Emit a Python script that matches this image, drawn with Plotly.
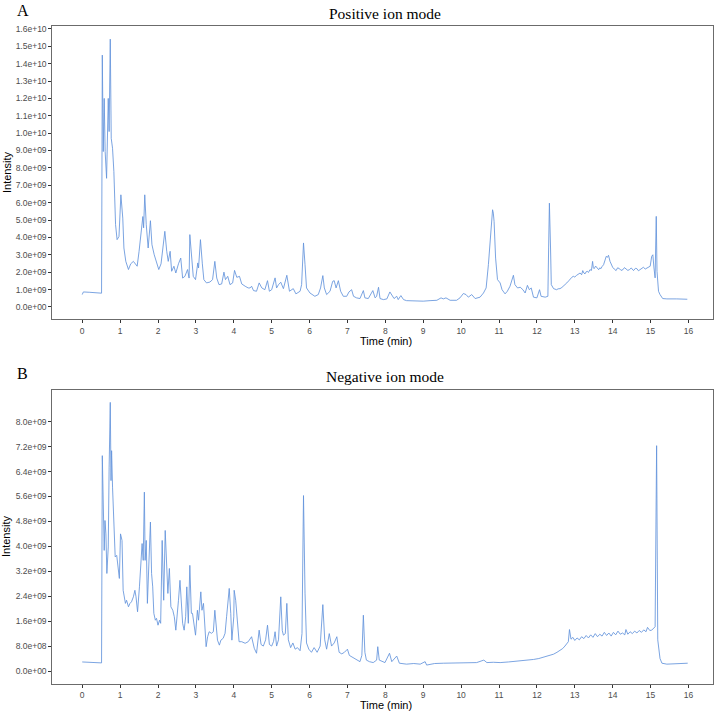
import plotly.graph_objects as go

# ---------------- data (intensity in units of 1e9) ----------------
pos_time = [0.00, 0.03, 0.20, 0.40, 0.51, 0.53, 0.555, 0.58, 0.605, 0.643, 0.687, 0.71, 0.74, 0.765, 0.80,
            0.835, 0.88, 0.92, 0.97, 1.02, 1.07, 1.10, 1.15, 1.22, 1.28, 1.35, 1.45, 1.50, 1.57, 1.60,
            1.62, 1.65, 1.69, 1.74, 1.80, 1.84, 1.90, 1.97, 2.02, 2.08, 2.14, 2.18, 2.23, 2.27, 2.32,
            2.36, 2.42, 2.47, 2.54, 2.60, 2.65, 2.71, 2.78, 2.82, 2.84, 2.89, 2.93, 2.99, 3.05, 3.07,
            3.12, 3.17, 3.21, 3.28, 3.37, 3.44, 3.50, 3.55, 3.61, 3.68, 3.74, 3.78, 3.84, 3.90, 3.97,
            4.02, 4.08, 4.15, 4.21, 4.30, 4.38,
            4.43, 4.47, 4.52, 4.60, 4.67, 4.74, 4.82, 4.89, 4.94, 5.00, 5.09, 5.13, 5.18, 5.24, 5.31,
            5.40, 5.47, 5.57, 5.64, 5.75, 5.79, 5.84, 5.88, 5.92, 6.01, 6.14, 6.23, 6.29, 6.35, 6.39,
            6.45, 6.54, 6.61, 6.65, 6.70, 6.76, 6.82, 6.89, 6.98, 7.04, 7.11, 7.16, 7.24, 7.33, 7.42,
            7.46, 7.55, 7.61, 7.67, 7.73, 7.77, 7.82, 7.86, 7.95, 8.04, 8.12, 8.17, 8.23, 8.30, 8.34,
            8.41, 8.48, 8.56, 8.83, 9.00, 9.18, 9.36, 9.47, 9.53, 9.60, 9.71, 9.88, 9.97, 10.06, 10.13,
            10.19, 10.28, 10.37, 10.50, 10.59,
            10.66, 10.72, 10.78, 10.83, 10.85, 10.87, 10.91, 10.96, 11.03, 11.08, 11.16, 11.22, 11.29,
            11.34, 11.38, 11.42, 11.49, 11.56, 11.63, 11.69, 11.75, 11.80, 11.85, 11.91, 12.00, 12.07,
            12.11, 12.22, 12.29, 12.31, 12.33, 12.36, 12.38, 12.44, 12.48, 12.52, 12.56, 12.61, 12.66,
            12.70, 12.75, 12.79, 12.84, 12.88, 12.92, 12.96, 13.00, 13.05, 13.10, 13.14, 13.18, 13.21,
            13.24, 13.27, 13.30, 13.33, 13.36, 13.40, 13.44, 13.47, 13.49, 13.51, 13.55, 13.58, 13.61,
            13.63, 13.66, 13.69, 13.72, 13.76, 13.80, 13.83, 13.86, 13.89, 13.93, 13.97, 14.00, 14.04,
            14.09, 14.13, 14.18, 14.22, 14.27, 14.31, 14.35, 14.40, 14.44, 14.49, 14.55, 14.60, 14.64,
            14.68, 14.72, 14.77, 14.81, 14.86, 14.90, 14.95, 14.99, 15.03, 15.06, 15.09, 15.12, 15.15,
            15.17, 15.21, 15.25, 15.32, 15.43, 15.69, 15.97]
pos_int = [0.71, 0.86, 0.84, 0.80, 0.79, 14.49, 8.94, 12.0, 8.94, 7.4, 12.0, 10.09, 15.41, 9.7, 9.13,
           7.79, 4.73, 3.87, 4.05, 6.45, 5.11, 3.39, 2.62, 2.15, 2.48, 2.62, 2.34, 3.2, 4.63, 5.2,
           4.55, 6.45, 4.73, 3.39, 4.96, 3.58, 3.0, 2.48, 2.15, 2.48, 3.58, 4.35, 3.2, 2.62, 3.2,
           2.05, 2.34, 1.95, 2.48, 2.81, 1.66, 1.76, 2.15, 1.66, 4.16, 2.62, 1.76, 1.57, 2.53, 2.24,
           3.87, 2.48, 1.57, 1.38, 1.43, 1.57, 2.62, 1.66, 1.28, 1.32, 2.0, 1.57, 1.76, 1.28, 1.38,
           2.1, 1.7, 1.76, 1.32, 1.19, 1.09,
           1.09, 1.19, 0.94, 0.90, 1.38, 1.09, 0.99, 1.51, 0.90, 0.99, 1.67, 1.09, 1.28, 1.42, 1.05,
           1.82, 0.90, 1.05, 0.75, 0.90, 1.28, 3.68, 2.43, 1.09, 0.80, 0.61, 0.71, 1.09, 1.80, 1.09,
           0.71, 0.90, 1.47, 1.51, 1.09, 1.51, 0.90, 0.61, 0.61, 0.86, 0.99, 0.61, 0.52, 0.48, 0.94,
           0.52, 0.48, 0.75, 0.94, 0.52, 0.61, 1.13, 0.48, 0.42, 0.46, 0.86, 0.71, 0.48, 0.61, 0.42,
           0.65, 0.42, 0.36, 0.33, 0.33, 0.36, 0.38, 0.52, 0.46, 0.52, 0.38, 0.38, 0.52, 0.77, 0.71,
           0.56, 0.71, 0.48, 0.56, 0.80,
           1.09, 2.43, 4.35, 5.59, 5.40, 4.92, 2.81, 1.57, 1.38, 0.99, 0.75, 0.90, 1.19,
           1.57, 1.82, 1.28, 1.09, 1.13, 0.99, 0.80, 1.24, 0.99, 1.09, 0.56, 0.52, 0.99,
           0.61, 0.56, 0.61, 3.39, 5.97, 3.39, 1.28, 1.05, 1.00, 0.99, 1.04, 1.05, 1.12,
           1.19, 1.28, 1.38, 1.50, 1.63, 1.70, 1.76, 1.72, 1.82, 1.88, 1.95, 1.85, 2.09,
           1.95, 1.90, 2.02, 2.05, 1.98, 2.14, 2.10, 2.62, 2.25, 2.20, 2.35, 2.28, 2.18,
           2.14, 2.25, 2.20, 2.32, 2.43, 2.70, 2.91, 2.85, 2.97, 2.62, 2.40, 2.28, 2.18,
           2.09, 2.25, 2.20, 2.10, 2.14, 2.26, 2.20, 2.10, 2.14, 2.24, 2.09, 2.22, 2.20,
           2.08, 2.14, 2.25, 2.28, 2.18, 2.24, 2.30, 2.34, 2.91, 3.00, 2.24, 1.67, 5.21,
           2.05, 0.90, 0.71, 0.48, 0.46, 0.46, 0.44]

neg_time = [0.00, 0.51, 0.53, 0.555, 0.58, 0.60, 0.625, 0.65, 0.687, 0.71, 0.74, 0.76, 0.775, 0.80, 0.84,
            0.87, 0.91, 0.95, 0.98, 1.01, 1.05, 1.08, 1.14, 1.17, 1.22, 1.26, 1.30, 1.35, 1.39, 1.42,
            1.46, 1.51, 1.55, 1.58, 1.61, 1.64, 1.66, 1.69, 1.72, 1.75, 1.79, 1.80, 1.83, 1.86, 1.89,
            1.93, 1.96, 2.00, 2.04, 2.07, 2.11, 2.15, 2.19, 2.23, 2.26, 2.30, 2.34, 2.39, 2.43, 2.47,
            2.51, 2.54, 2.58, 2.62, 2.65, 2.69, 2.73, 2.76, 2.80, 2.84, 2.88, 2.91, 2.96, 2.99, 3.04,
            3.07, 3.13, 3.16, 3.20, 3.23, 3.27, 3.31, 3.35, 3.41, 3.46, 3.50, 3.54, 3.57, 3.62, 3.66,
            3.72, 3.77, 3.81, 3.85, 3.88, 3.92, 3.95, 4.00, 4.01, 4.05, 4.09, 4.14, 4.21, 4.30, 4.38,
            4.47, 4.54, 4.60, 4.67, 4.72, 4.78, 4.84, 4.89, 4.94, 5.00, 5.05, 5.09, 5.13, 5.18, 5.24,
            5.28, 5.31, 5.36, 5.40, 5.44, 5.50, 5.56, 5.62, 5.68, 5.75, 5.80, 5.84, 5.88, 5.92, 5.98,
            6.05, 6.12, 6.20, 6.28, 6.35, 6.40, 6.45, 6.52, 6.58, 6.65, 6.72, 6.78, 6.85, 6.92, 7.00,
            7.05, 7.12, 7.20, 7.28, 7.33, 7.38, 7.42, 7.46, 7.50, 7.58, 7.68, 7.77, 7.80, 7.84, 7.99,
            8.11, 8.17, 8.30, 8.37, 8.56, 8.75, 8.92, 9.05, 9.09, 9.30, 9.53, 9.75, 9.97, 10.20, 10.41,
            10.60, 10.68, 10.85, 11.03, 11.25, 11.47, 11.70, 11.91, 12.05, 12.17, 12.30, 12.44, 12.53,
            12.61, 12.68, 12.74, 12.79, 12.83, 12.86, 12.90, 12.95, 13.00, 13.06, 13.12, 13.18, 13.24,
            13.30, 13.36, 13.42, 13.48, 13.54, 13.60, 13.66, 13.72, 13.78, 13.84, 13.90, 13.96, 14.02,
            14.08, 14.14, 14.20, 14.26, 14.32, 14.35, 14.40, 14.46, 14.52, 14.58, 14.64, 14.70, 14.76,
            14.82, 14.88, 14.92, 14.98, 15.03, 15.08, 15.12, 15.16, 15.18, 15.19, 15.25, 15.30, 15.43,
            15.98]
neg_int = [0.29, 0.26, 6.91, 4.94, 3.87, 4.83, 4.40, 3.13, 3.98, 6.54, 8.62, 6.11, 7.07, 5.90, 4.62,
           3.66, 3.71, 3.34, 2.97, 4.40, 4.19, 2.59, 2.17, 2.27, 2.06, 2.17, 2.22, 2.38, 2.59, 2.38,
           1.90, 2.70, 3.55, 4.09, 3.55, 5.74, 3.55, 4.19, 2.17, 3.34, 4.40, 4.78, 3.13, 2.70, 1.85,
           1.63, 1.69, 1.47, 1.63, 1.53, 4.19, 2.27, 4.51, 3.02, 2.49, 3.29, 2.06, 1.95, 1.74, 1.31,
           2.06, 2.27, 2.91, 2.27, 1.53, 1.31, 1.74, 2.70, 1.53, 3.39, 1.85, 1.85, 1.42, 1.15, 1.95,
           1.63, 2.54, 1.95, 2.17, 1.53, 0.78, 1.10, 1.26, 1.21, 1.26, 1.95, 1.31, 0.99, 0.83, 0.99,
           1.05, 1.21, 1.74, 2.38, 2.65, 1.85, 0.99, 1.74, 2.59, 2.27, 1.63, 0.94, 0.94, 0.89, 0.94,
           1.10, 0.73, 0.57, 1.31, 0.85, 0.80, 1.00, 1.47, 0.85, 0.80, 0.95, 1.26, 0.80, 1.00, 2.38,
           1.30, 1.15, 1.20, 2.17, 1.00, 0.75, 0.90, 0.70, 0.75, 0.65, 1.20, 5.63, 2.50, 0.90, 0.70,
           0.60, 0.75, 0.60, 0.80, 2.13, 1.00, 0.70, 1.20, 0.80, 0.90, 1.10, 0.60, 0.55, 0.60, 0.70,
           0.50, 0.45, 0.40, 0.35, 0.30, 0.50, 1.79, 0.60, 0.35, 0.30, 0.27, 0.35, 0.78, 0.35, 0.27,
           0.57, 0.30, 0.48, 0.25, 0.22, 0.24, 0.22, 0.30, 0.19, 0.24, 0.25, 0.26, 0.27, 0.26, 0.27,
           0.35, 0.27, 0.28, 0.27, 0.29, 0.31, 0.33, 0.37, 0.40, 0.44, 0.49, 0.54, 0.60,
           0.65, 0.72, 0.80, 0.86, 0.94, 1.33, 1.02, 1.08, 0.98, 1.06, 1.00, 1.10, 1.04,
           1.14, 1.06, 1.16, 1.08, 1.20, 1.10, 1.18, 1.12, 1.24, 1.14, 1.22, 1.12, 1.24,
           1.16, 1.28, 1.18, 1.22, 1.16, 1.33, 1.18, 1.26, 1.20, 1.28, 1.22, 1.30, 1.24,
           1.32, 1.26, 1.40, 1.30, 1.31, 1.36, 1.42, 7.23, 1.60, 1.00, 0.40, 0.25, 0.22,
           0.25]

time_ticks = list(range(0, 17))
pos_ticks = [i * 1.0e9 for i in range(0, 17)]
neg_ticks = [i * 0.8e9 for i in range(0, 11)]
pos_ticktext = ["{:.1e}".format(v) for v in pos_ticks]
neg_ticktext = ["{:.1e}".format(v) for v in neg_ticks]

panel_titles = ["Positive ion mode", "Negative ion mode"]
panel_letters = ["A", "B"]

# ---------------- figure ----------------
W, H = 719, 712
line_color = "#6394dc"
fig = go.Figure()
fig.add_trace(go.Scatter(x=pos_time, y=[v * 1e9 for v in pos_int], mode="lines",
                         line=dict(color=line_color, width=0.85), xaxis="x", yaxis="y",
                         showlegend=False, hoverinfo="skip"))
fig.add_trace(go.Scatter(x=neg_time, y=[v * 1e9 for v in neg_int], mode="lines",
                         line=dict(color=line_color, width=0.85), xaxis="x2", yaxis="y2",
                         showlegend=False, hoverinfo="skip"))

tickfont = dict(family="Liberation Sans, Arial", size=8.5, color="#4d4d4d")
axis_common = dict(showline=True, linecolor="#6b6b6b", linewidth=1, mirror=True,
                   ticks="outside", ticklen=3, tickwidth=1, tickcolor="#333333",
                   showgrid=False, zeroline=False, tickfont=tickfont)

xd = [52.3 / W, 712.7 / W]
fig.update_layout(
    width=W, height=H, margin=dict(l=0, r=0, t=0, b=0),
    paper_bgcolor="white", plot_bgcolor="white",
    xaxis=dict(domain=xd, anchor="y", range=[-0.79, 16.64], tickvals=time_ticks, **axis_common),
    yaxis=dict(domain=[1 - 318.3 / H, 1 - 24 / H], anchor="x", range=[-0.72e9, 16.17e9],
               tickvals=pos_ticks, ticktext=pos_ticktext, **axis_common),
    xaxis2=dict(domain=xd, anchor="y2", range=[-0.79, 16.64], tickvals=time_ticks, **axis_common),
    yaxis2=dict(domain=[1 - 683.7 / H, 1 - 389 / H], anchor="x2", range=[-0.41e9, 9.02e9],
                tickvals=neg_ticks, ticktext=neg_ticktext, **axis_common),
)

serif = "Liberation Serif, Times New Roman"
sans = "Liberation Sans, Arial"
ann = []
for letter, ly in zip(panel_letters, [8.5, 372.5]):
    ann.append(dict(text=letter, x=15 / W, y=1 - ly / H, xref="paper", yref="paper",
                    xanchor="left", yanchor="middle", showarrow=False,
                    font=dict(family=serif, size=16, color="black")))
for title, ty in zip(panel_titles, [12, 376]):
    ann.append(dict(text=title, x=385 / W, y=1 - ty / H, xref="paper", yref="paper",
                    xanchor="center", yanchor="middle", showarrow=False,
                    font=dict(family=serif, size=15.5, color="black")))
for ty in [340, 705]:
    ann.append(dict(text="Time (min)", x=386 / W, y=1 - ty / H, xref="paper", yref="paper",
                    xanchor="center", yanchor="middle", showarrow=False,
                    font=dict(family=sans, size=11, color="black")))
for iy in [171, 536]:
    ann.append(dict(text="Intensity", x=6.5 / W, y=1 - iy / H, xref="paper", yref="paper",
                    xanchor="center", yanchor="middle", showarrow=False, textangle=-90,
                    font=dict(family=sans, size=11, color="black")))
fig.update_layout(annotations=ann)

fig.write_html("out.html")
